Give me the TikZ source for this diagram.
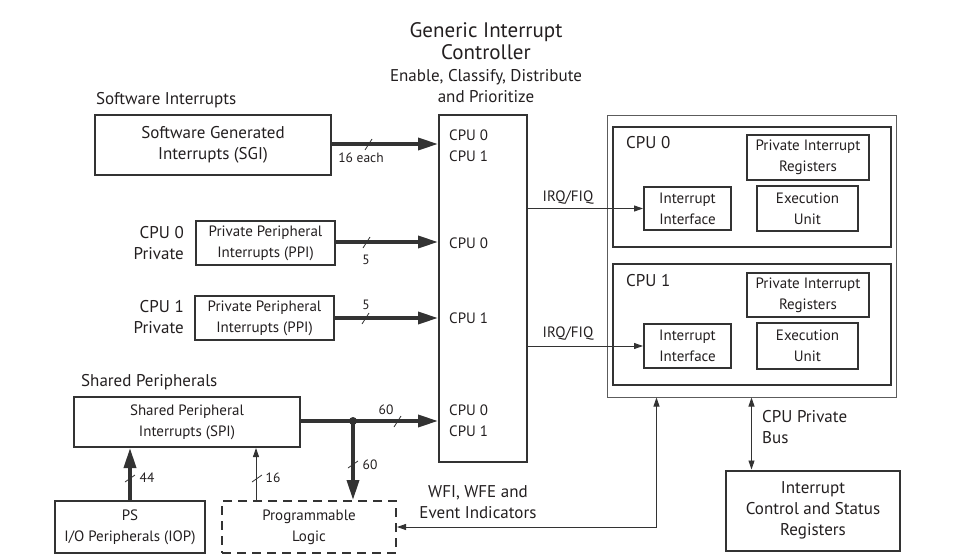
\documentclass[tikz,border=0pt]{standalone}
\usepackage{fontspec}
\setmainfont{PT Sans}
\usetikzlibrary{arrows.meta,calc}
\definecolor{ink}{HTML}{231F20}
\definecolor{ln}{HTML}{333333}
\begin{document}
\begin{tikzpicture}[x=1pt,y=-1pt,
  every node/.style={text=ink,inner sep=0pt},
  fbig/.style={font=\fontsize{17}{21}\selectfont},
  fmid/.style={font=\fontsize{15}{21}\selectfont},
  fsm/.style={font=\fontsize{13.5}{16}\selectfont},
  tbox/.style={draw=ln,line width=2pt,align=center},
  nbox/.style={draw=ln,line width=1.2pt,align=center},
  dbox/.style={draw=ln,line width=2pt,dash pattern=on 9pt off 6pt,align=center},
  fat/.style={draw=ln,line width=3.6pt,-{Triangle[length=20pt,width=12pt]}},
  thin/.style={draw=ln,line width=0.9pt,-{Triangle[length=9pt,width=6pt]}},
  tick/.style={draw=ln,line width=0.8pt}
]
\useasboundingbox (0,0) rectangle (969,557);

% title
\node[font=\fontsize{21}{22}\selectfont,align=center] (title) at (486,41) {Generic Interrupt\\Controller};
\node[fbig,align=center] (sub) at (486,86) {Enable, Classify, Distribute\\and Prioritize};

% GIC
\node[tbox,minimum width=88pt,minimum height=347pt] (gic) at (483,288.5) {};
\node[fmid,anchor=west] (g1) at (449,135) {CPU 0};
\node[fmid,anchor=west] (g2) at (449,156) {CPU 1};
\node[fmid,anchor=west] (g3) at (449,243) {CPU 0};
\node[fmid,anchor=west] (g4) at (449,318) {CPU 1};
\node[fmid,anchor=west] (g5) at (449,410) {CPU 0};
\node[fmid,anchor=west] (g6) at (449,431) {CPU 1};

% left sources
\node[fbig,anchor=west] (swl) at (96,100) {Software Interrupts};
\node[tbox,fbig,minimum width=236pt,minimum height=60pt] (sgi) at (213,145) {Software Generated\\Interrupts (SGI)};
\node[fbig,align=right,anchor=east] (c0l) at (184,243) {CPU 0\\Private};
\node[nbox,fmid,minimum width=139pt,minimum height=44pt] (ppi0) at (265.5,243) {Private Peripheral\\Interrupts (PPI)};
\node[fbig,align=right,anchor=east] (c1l) at (184,317) {CPU 1\\Private};
\node[nbox,fmid,minimum width=139pt,minimum height=44pt] (ppi1) at (264.5,318) {Private Peripheral\\Interrupts (PPI)};
\node[fbig,anchor=west] (shl) at (81,382) {Shared Peripherals};
\node[tbox,fmid,minimum width=226pt,minimum height=50pt] (spi) at (187,422) {Shared Peripheral\\Interrupts (SPI)};
\node[tbox,fmid,minimum width=150pt,minimum height=52pt] (iop) at (130,527) {PS\\I/O Peripherals (IOP)};
\node[dbox,fmid,minimum width=174pt,minimum height=52pt] (pl) at (309,527) {Programmable\\Logic};

% arrows into GIC
\draw[fat] (sgi.east |- 0,144) -- (gic.west |- 0,144);
\draw[tick] (365,150) -- (372,139);
\node[fsm] (l16e) at (361,158) {16 each};
\draw[fat] (ppi0.east |- 0,242) -- (gic.west |- 0,242);
\draw[tick] (363,248) -- (370,237);
\node[fsm] (l5a) at (366,260) {5};
\draw[fat] (ppi1.east) -- (gic.west |- ppi1.east);
\draw[tick] (362,324) -- (369,313);
\node[fsm] (l5b) at (366,305) {5};
\coordinate (dot) at (353,421);
\draw[fat] (spi.east |- dot) -- (gic.west |- dot);
\fill[ln] (dot) circle (4pt);
\draw[tick] (394,427) -- (401,416);
\node[fsm] (l60a) at (386,410) {60};
\draw[fat] (dot) -- (dot |- pl.north);
\draw[tick] (348,468) -- (358,461);
\node[fsm] (l60b) at (370,465) {60};
\draw[fat] (iop.north) -- (iop.north |- spi.south);
\draw[tick] (125,482) -- (135,475);
\node[fsm] (l44) at (147,478) {44};
\draw[thin] ([xshift=35pt]pl.north west) -- ([xshift=35pt]pl.north west |- spi.south);
\draw[tick] (252,482) -- (262,475);
\node[fsm] (l16) at (273,478) {16};

% CPU cluster
\node[draw=ln!80,line width=1pt,minimum width=289pt,minimum height=282pt] (outer) at (751.5,256) {};
\node[tbox,minimum width=278pt,minimum height=120pt] (cpu0) at (752,187) {};
\node[tbox,minimum width=278pt,minimum height=121pt] (cpu1) at (752,324.5) {};
\node[fbig,anchor=west] (c0t) at (626,143) {CPU 0};
\node[fbig,anchor=west] (c1t) at (626,281) {CPU 1};
\node[tbox,fmid,minimum width=122pt,minimum height=45pt] (pir0) at (808,157.5) {Private Interrupt\\Registers};
\node[tbox,fmid,minimum width=101pt,minimum height=45pt] (eu0) at (807.5,208.5) {Execution\\Unit};
\node[tbox,fmid,minimum width=87pt,minimum height=43pt] (ii0) at (687.5,208.5) {Interrupt\\Interface};
\node[tbox,fmid,minimum width=122pt,minimum height=44pt] (pir1) at (808,295) {Private Interrupt\\Registers};
\node[tbox,fmid,minimum width=101pt,minimum height=46pt] (eu1) at (807.5,346) {Execution\\Unit};
\node[tbox,fmid,minimum width=87pt,minimum height=44pt] (ii1) at (687.5,346) {Interrupt\\Interface};

\draw[thin] (gic.east |- ii0.west) -- (ii0.west);
\node[fmid] (irq0) at (568,198) {IRQ/FIQ};
\draw[thin] (gic.east |- ii1.west) -- (ii1.west);
\node[fmid] (irq1) at (568,334) {IRQ/FIQ};

% bottom right
\node[tbox,fbig,minimum width=174pt,minimum height=80pt] (icsr) at (813,510.5) {Interrupt\\Control and Status\\Registers};
\draw[draw=ln,line width=0.9pt,{Triangle[length=9pt,width=6pt]}-{Triangle[length=9pt,width=6pt]}] (outer.south) -- (outer.south |- icsr.north);
\node[fbig,align=left,anchor=west] (bus) at (762,427) {CPU Private\\Bus};
\draw[draw=ln,line width=0.9pt,{Triangle[length=9pt,width=6pt]}-{Triangle[length=9pt,width=6pt]}] ([xshift=50pt]outer.south west) |- (pl.east);
\node[fbig,align=center] (wfi) at (478,502) {WFI, WFE and\\Event Indicators};
\end{tikzpicture}
\end{document}
